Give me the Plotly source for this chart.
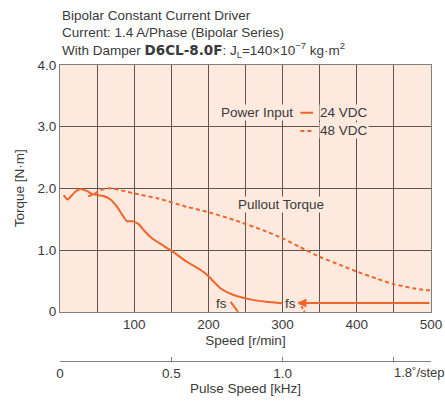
import plotly.graph_objects as go

# ---- data ----
speed_24 = [5, 10, 14, 21, 27, 36, 43, 50, 59, 68, 77, 84, 90, 99, 106, 113, 124, 150, 171, 189, 198, 207, 216, 234, 256, 278, 300]
torque_24 = [1.89, 1.82, 1.86, 1.95, 1.99, 1.96, 1.91, 1.89, 1.875, 1.82, 1.70, 1.57, 1.47, 1.465, 1.42, 1.32, 1.19, 0.99, 0.81, 0.68, 0.60, 0.49, 0.38, 0.27, 0.20, 0.16, 0.135]
speed_48 = [38, 45, 54, 68, 99, 131, 171, 198, 234, 278, 300, 323, 350, 377, 400, 426, 449, 476, 500]
torque_48 = [1.87, 1.9, 1.97, 2.0, 1.92, 1.84, 1.70, 1.62, 1.49, 1.30, 1.19, 1.05, 0.89, 0.76, 0.65, 0.54, 0.45, 0.38, 0.34]

fs24_speed = [230, 241]
fs24_torque = [0.16, -0.02]
fs48_speed = [322, 331]
fs48_torque = [0.16, -0.03]
fs_arrow_speed = [500, 320]
fs_arrow_torque = [0.14, 0.14]

speed_grid = list(range(0, 501, 50))
speed_labels = ["" if v % 100 else str(v) for v in speed_grid]
speed_labels[0] = ""
torque_ticks = [0, 1, 2, 3, 4]
torque_labels = ["0", "1.0", "2.0", "3.0", "4.0"]
pulse_ticks = [0, 0.5, 1.0, 1.5]
pulse_labels = ["0", "0.5", "1.0", ""]
pulse_max = 500 / 300.0

ORANGE = "#f1652b"
TXT = "#3a3a3a"
BG = "#fde9dd"
GRID = "#5e5552"
FONT = "Liberation Sans, Arial, sans-serif"
FS = 13.5

W, H = 445, 401
ML, MR, MT, MB = 59.5, 14, 65, 20
PB = H - MB          # paper bottom (px)
PH = PB - MT         # paper height


def py(px_y):
    return (PB - px_y) / PH


fig = go.Figure()
fig.add_trace(go.Scatter(x=speed_48, y=torque_48, mode="lines", line=dict(color=ORANGE, width=2, dash="4px,3px", shape="spline", smoothing=0.6), hoverinfo="skip"))
fig.add_trace(go.Scatter(x=speed_24, y=torque_24, mode="lines", line=dict(color=ORANGE, width=2, shape="spline", smoothing=0.6), hoverinfo="skip"))
fig.add_trace(go.Scatter(x=fs24_speed, y=fs24_torque, mode="lines", line=dict(color=ORANGE, width=2), hoverinfo="skip"))
fig.add_trace(go.Scatter(x=fs48_speed, y=fs48_torque, mode="lines", line=dict(color=ORANGE, width=2, dash="3px,2px"), hoverinfo="skip"))
fig.add_trace(go.Scatter(x=pulse_ticks, y=[None] * len(pulse_ticks), xaxis="x2", yaxis="y", mode="lines", hoverinfo="skip"))

ann = []
title_lines = [
    "Bipolar Constant Current Driver",
    "Current: 1.4 A/Phase (Bipolar Series)",
    "With Damper <span style='font-family:DejaVu Sans;font-weight:bold'>D6CL-8.0F</span>: J<sub>L</sub>=140×10<sup>−7</sup> kg·m<sup>2</sup>",
]
ty = [15, 33, 50]
for t, yp in zip(title_lines, ty):
    ann.append(dict(text=t, xref="paper", yref="paper", x=0, xanchor="left", y=py(yp), yanchor="middle",
                    showarrow=False, font=dict(size=FS, color=TXT, family=FONT)))

ann.append(dict(text="Power Input", x=316, y=3.225, xanchor="right", yanchor="middle", showarrow=False, bgcolor=BG, borderpad=0,
                font=dict(size=FS, color=TXT, family=FONT)))
ann.append(dict(text="24 VDC", x=349, y=3.225, xanchor="left", yanchor="middle", showarrow=False, bgcolor=BG, borderpad=0,
                font=dict(size=FS, color=TXT, family=FONT)))
ann.append(dict(text="48 VDC", x=349, y=2.93, xanchor="left", yanchor="middle", showarrow=False, bgcolor=BG, borderpad=0,
                font=dict(size=FS, color=TXT, family=FONT)))
ann.append(dict(text="Pullout Torque", x=298, y=1.74, xanchor="center", yanchor="middle", showarrow=False, bgcolor=BG, borderpad=0,
                font=dict(size=FS, color=TXT, family=FONT)))
ann.append(dict(text="fs", x=217, y=0.13, xanchor="center", yanchor="middle", showarrow=False,
                font=dict(size=FS, color=TXT, family=FONT)))
ann.append(dict(text="fs", x=311, y=0.13, xanchor="center", yanchor="middle", showarrow=False,
                font=dict(size=FS, color=TXT, family=FONT)))
ann.append(dict(text="", x=fs_arrow_speed[1], y=fs_arrow_torque[1], ax=fs_arrow_speed[0], ay=fs_arrow_torque[0],
                axref="x", ayref="y", showarrow=True, arrowhead=2, arrowsize=0.9, arrowwidth=2, arrowcolor=ORANGE))
ann.append(dict(text="1.8˚/step", xref="x2", yref="paper", x=1.49, xanchor="left", y=py(372.5), yanchor="middle",
                showarrow=False, font=dict(size=13, color=TXT, family=FONT)))

shapes = [
    dict(type="line", xref="x", yref="y", x0=324, x1=341, y0=3.225, y1=3.225, line=dict(color=ORANGE, width=2)),
    dict(type="line", xref="x", yref="y", x0=324, x1=343, y0=2.93, y1=2.93, line=dict(color=ORANGE, width=2, dash="4px,3px")),
]

fig.update_layout(
    width=W, height=H,
    margin=dict(l=ML, r=MR, t=MT, b=MB, autoexpand=False),
    paper_bgcolor="white", plot_bgcolor=BG,
    showlegend=False, hovermode=False,
    font=dict(family=FONT, size=FS, color=TXT),
    annotations=ann, shapes=shapes,
    xaxis=dict(range=[0, 500], tickvals=speed_grid, ticktext=speed_labels, showgrid=True, gridcolor=GRID, gridwidth=1,
               zeroline=False, showline=True, linecolor="#808080", linewidth=1, mirror=True, ticks="", automargin=False,
               title=dict(text="Speed [r/min]", standoff=4, font=dict(size=FS)), anchor="y", tickfont=dict(size=FS)),
    yaxis=dict(range=[0, 4], domain=[py(311.7), 1], tickvals=torque_ticks, ticktext=torque_labels,
               showgrid=True, gridcolor=GRID, gridwidth=1, zeroline=False, showline=True, linecolor="#808080",
               linewidth=1, mirror=True, ticks="", automargin=False, title=dict(text="Torque [N·m]", standoff=9, font=dict(size=FS)),
               tickfont=dict(size=FS)),
    xaxis2=dict(range=[0, pulse_max], anchor="free", position=py(361), overlaying="x", side="bottom",
                tickvals=pulse_ticks, ticktext=pulse_labels, ticks="inside", ticklen=4, tickcolor="#808080", automargin=False,
                showline=True, linecolor="#808080", linewidth=1, showgrid=False, zeroline=False,
                title=dict(text="Pulse Speed [kHz]", standoff=2, font=dict(size=FS)), tickfont=dict(size=FS)),
)

fig.write_html("out.html", config={"displayModeBar": False, "staticPlot": True},
               post_script="document.body.style.margin='0px';document.body.style.overflow='hidden';")
